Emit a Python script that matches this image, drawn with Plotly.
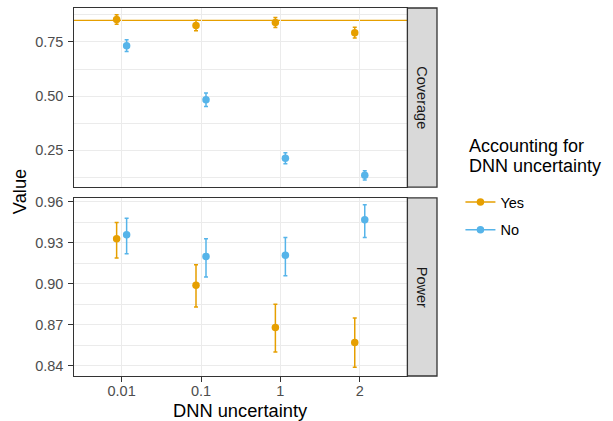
import plotly.graph_objects as go

# Simulation summary: mean and interval bounds per DNN uncertainty level
levels = ["0.01", "0.1", "1", "2"]
groups = ["Yes", "No"]

coverage_yes = [0.854, 0.826, 0.840, 0.793]
coverage_yes_lo = [0.832, 0.802, 0.817, 0.768]
coverage_yes_hi = [0.876, 0.850, 0.863, 0.818]

coverage_no = [0.733, 0.483, 0.213, 0.134]
coverage_no_lo = [0.706, 0.452, 0.188, 0.113]
coverage_no_hi = [0.760, 0.514, 0.238, 0.155]

power_yes = [0.933, 0.899, 0.868, 0.857]
power_yes_lo = [0.919, 0.883, 0.850, 0.839]
power_yes_hi = [0.945, 0.914, 0.885, 0.875]

power_no = [0.936, 0.920, 0.921, 0.947]
power_no_lo = [0.922, 0.905, 0.906, 0.934]
power_no_hi = [0.948, 0.933, 0.934, 0.958]

nominal_coverage = 0.85

coverage_ticks = [0.25, 0.50, 0.75]
power_ticks = [0.84, 0.87, 0.90, 0.93, 0.96]

colors = {"Yes": "#E69F00", "No": "#56B4E9"}
dodge = {"Yes": -0.063, "No": 0.063}

FONT = "Liberation Sans, Arial, sans-serif"
BORDER = "#333333"
GRID = "#EBEBEB"

# figure geometry (pixels)
W, H = 613, 421
ML, MR, MT, MB = 73.5, 175.5, 4, 45
PW = W - ML - MR
PH = H - MT - MB
panel_right = (407.8 - ML) / PW
top_dom = [(H - MB - 185) / PH, 1.0]
bot_dom = [0.0, (H - MB - 196) / PH]


def px_x(p):
    return (p - ML) / PW


def px_y(p):
    return (H - MB - p) / PH


fig = go.Figure()

series = {
    ("Coverage", "Yes"): (coverage_yes, coverage_yes_lo, coverage_yes_hi),
    ("Coverage", "No"): (coverage_no, coverage_no_lo, coverage_no_hi),
    ("Power", "Yes"): (power_yes, power_yes_lo, power_yes_hi),
    ("Power", "No"): (power_no, power_no_lo, power_no_hi),
}
axes = {"Coverage": ("x", "y"), "Power": ("x2", "y2")}

for (metric, grp), (mean, lo, hi) in series.items():
    xa, ya = axes[metric]
    xs = [i + 1 + dodge[grp] for i in range(len(levels))]
    fig.add_trace(go.Scatter(
        x=xs, y=mean, mode="markers",
        marker=dict(color=colors[grp], size=7.5),
        error_y=dict(type="data", symmetric=False,
                     array=[h - m for h, m in zip(hi, mean)],
                     arrayminus=[m - l for m, l in zip(mean, lo)],
                     color=colors[grp], thickness=1.5, width=2),
        xaxis=xa, yaxis=ya, showlegend=False, hoverinfo="x+y",
    ))

# legend keys
for grp in groups:
    fig.add_trace(go.Scatter(
        x=[None], y=[None], mode="lines+markers", name=grp,
        line=dict(color=colors[grp], width=1.5),
        marker=dict(color=colors[grp], size=7.5),
        legendgroup=grp, xaxis="x2", yaxis="y2",
    ))

axis_common = dict(showline=True, mirror=True, linecolor=BORDER, linewidth=1.3,
                   showgrid=True, gridcolor=GRID, gridwidth=1.4, zeroline=False)

xcommon = dict(axis_common, range=[0.4, 4.6], tickmode="array",
               tickvals=[1, 2, 3, 4], ticktext=levels, domain=[0, panel_right])

tickfont = dict(size=14.5, color="#4D4D4D", family=FONT)

fig.update_layout(
    width=W, height=H,
    margin=dict(l=ML, r=MR, t=MT, b=MB, pad=0),
    paper_bgcolor="white", plot_bgcolor="white",
    font=dict(family=FONT, size=14, color="#4D4D4D"),
    xaxis=dict(xcommon, anchor="y", showticklabels=False, ticks=""),
    xaxis2=dict(xcommon, anchor="y2", matches="x", ticks="outside", ticklen=4.5,
                tickwidth=1.3, tickcolor=BORDER, ticklabelstandoff=-3,
                tickfont=tickfont),
    yaxis=dict(axis_common, domain=top_dom, anchor="x", range=[0.08, 0.907],
               tickmode="array", tickvals=coverage_ticks,
               ticktext=[f"{v:.2f}" for v in coverage_ticks],
               ticks="outside", ticklen=4.5, tickwidth=1.3, tickcolor=BORDER,
               tickfont=tickfont, ticklabelstandoff=2,
               minor=dict(tickmode="array", tickvals=[0.125, 0.375, 0.625, 0.875],
                          showgrid=True, gridcolor=GRID, gridwidth=0.7, ticks="")),
    yaxis2=dict(axis_common, domain=bot_dom, anchor="x2", range=[0.8325, 0.9629],
                tickmode="array", tickvals=power_ticks,
                ticktext=[f"{v:.2f}" for v in power_ticks],
                ticks="outside", ticklen=4.5, tickwidth=1.3, tickcolor=BORDER,
                tickfont=tickfont, ticklabelstandoff=2,
                minor=dict(tickmode="array", tickvals=[0.855, 0.885, 0.915, 0.945],
                           showgrid=True, gridcolor=GRID, gridwidth=0.7, ticks="")),
    legend=dict(x=px_x(461), xanchor="left",
                y=px_y(184), yanchor="top",
                font=dict(size=14.5, color="black", family=FONT),
                tracegroupgap=6, bgcolor="rgba(0,0,0,0)", itemwidth=30),
)

# nominal coverage reference line
fig.add_shape(type="line", xref="x domain", yref="y", x0=0, x1=1,
              y0=nominal_coverage, y1=nominal_coverage,
              line=dict(color=colors["Yes"], width=1.4), layer="below")

# facet strips
strip_x0, strip_x1 = panel_right, 1.0
for label, yref in [("Coverage", "y domain"), ("Power", "y2 domain")]:
    fig.add_shape(type="rect", xref="paper", yref=yref,
                  x0=strip_x0, x1=strip_x1, y0=0, y1=1,
                  fillcolor="#D9D9D9", line=dict(color=BORDER, width=1.3),
                  layer="above")
    fig.add_annotation(text=label, xref="paper", yref=yref,
                       x=(strip_x0 + strip_x1) / 2, y=0.5, textangle=90,
                       xanchor="center", yanchor="middle",
                       showarrow=False, font=dict(size=14.5, color="#1A1A1A", family=FONT))

# axis titles
fig.add_annotation(text="Value", xref="paper", yref="paper",
                   x=px_x(18.5), y=px_y(190), textangle=-90,
                   xanchor="center", yanchor="middle",
                   showarrow=False, font=dict(size=18.3, color="black", family=FONT))
fig.add_annotation(text="DNN uncertainty", xref="paper", yref="paper",
                   x=px_x(240.6), y=px_y(411),
                   xanchor="center", yanchor="middle",
                   showarrow=False, font=dict(size=18.3, color="black", family=FONT))

# legend title, two lines
for txt, cy in [("Accounting for", 143.5), ("DNN uncertainty", 164.0)]:
    fig.add_annotation(text=txt, xref="paper", yref="paper",
                       x=px_x(469), y=px_y(cy), borderpad=0,
                       xanchor="left", yanchor="middle", showarrow=False,
                       font=dict(size=18, color="black", family=FONT))

fig.write_html("out.html")
